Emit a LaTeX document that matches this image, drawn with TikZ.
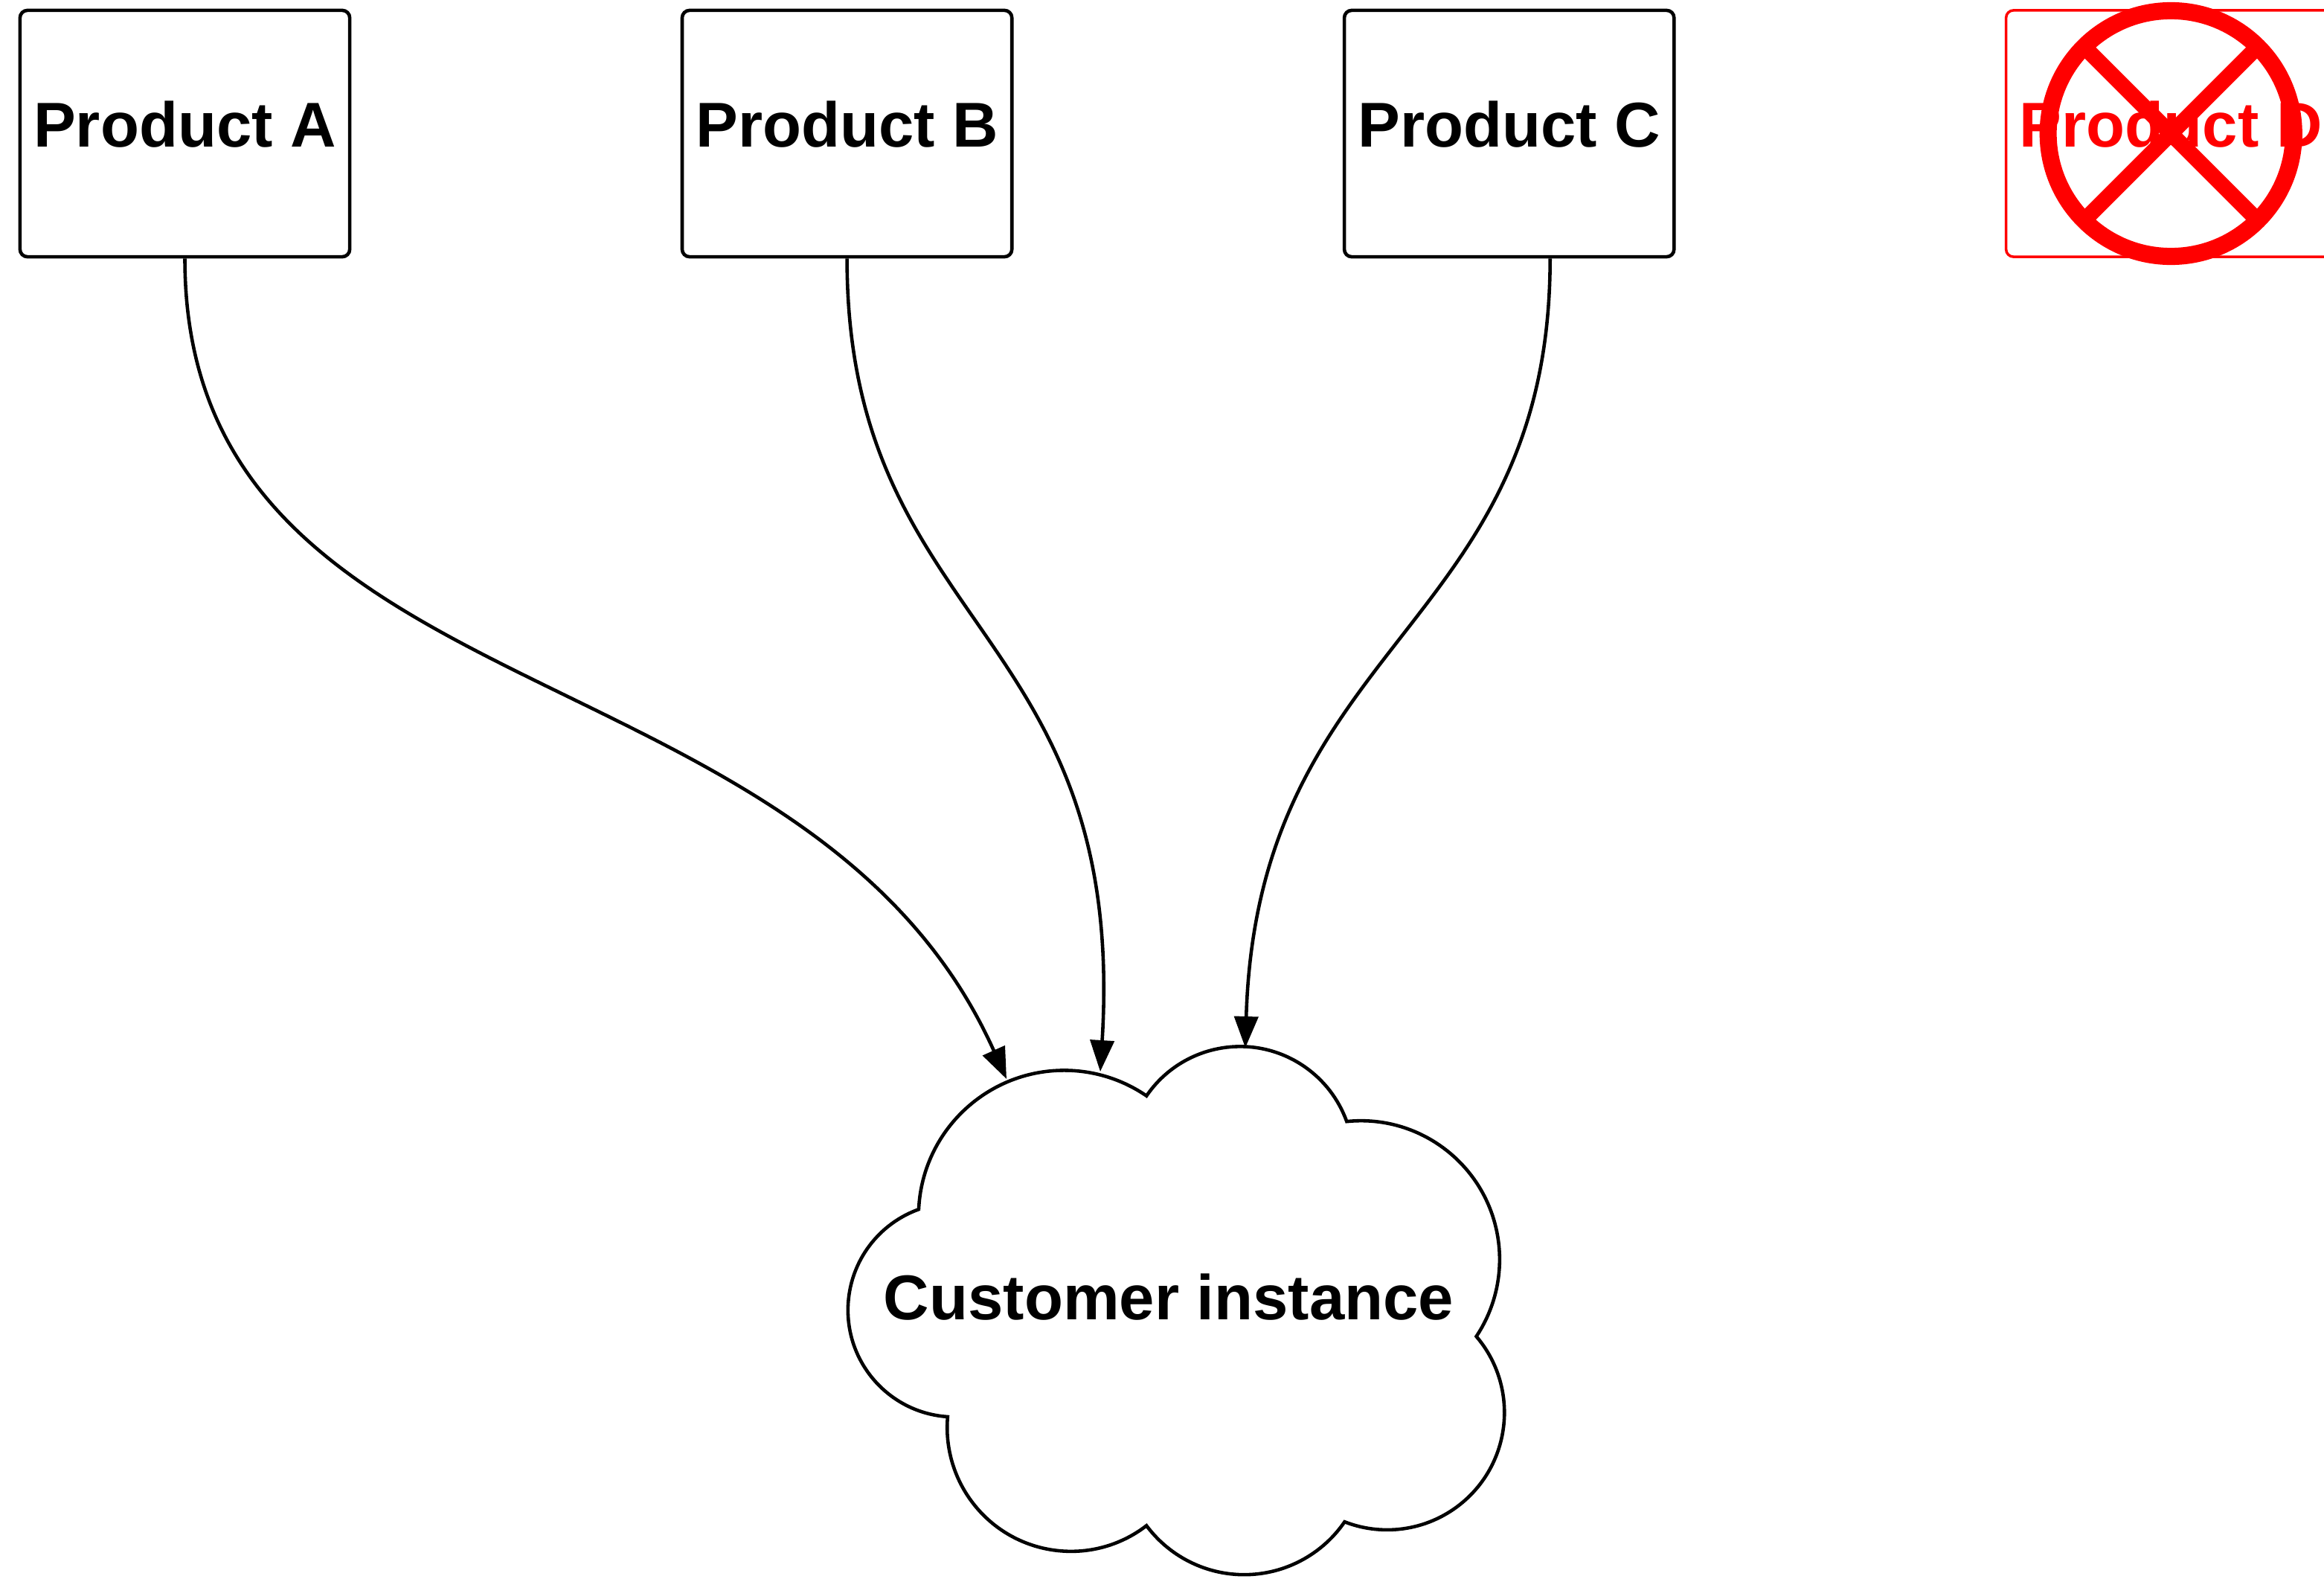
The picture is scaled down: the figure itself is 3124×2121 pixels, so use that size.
\documentclass[tikz,border=0pt]{standalone}
\usepackage{fontspec}
\setmainfont{Liberation Sans}
\usetikzlibrary{arrows.meta, positioning}

\begin{document}
\begin{tikzpicture}[x=0.01cm, y=-0.01cm,
    every node/.style = {font=\fontsize{24.2}{29}\selectfont\bfseries},
    product/.style = {draw, line width=1.3pt, rounded corners=0.1cm,
      minimum width=4.43cm, minimum height=3.31cm, inner sep=0pt,
      text depth=0.26cm},
    dropped/.style = {product, draw=red, text=red, line width=1pt},
    ban/.style     = {red, line width=0.23cm},
    link/.style    = {line width=1.3pt,
      -{Triangle[length=0.42cm, width=0.32cm]}},
  ]
  \path[use as bounding box, clip] (0,0) rectangle (3124,2121);
  \node[product] (pA) at (248.5,179.5) {Product A};
  \node[product, right=4.42cm of pA] (pB) {Product B};
  \node[product, right=4.42cm of pB] (pC) {Product C};
  \node[dropped, right=4.42cm of pC] (pD) {Product D};
  \draw[ban] (pD.center) circle[radius=1.65cm];
  \draw[ban, line width=0.21cm]
    ([shift={(-1.17cm,1.17cm)}]pD.center) -- ([shift={(1.17cm,-1.17cm)}]pD.center)
    ([shift={(-1.17cm,-1.17cm)}]pD.center) -- ([shift={(1.17cm,1.17cm)}]pD.center);
  \draw[line width=1.3pt] (1235,1624)
    arc[start angle=177,   end angle=55.6,   radius=1.957cm]
    arc[start angle=145.6, end angle=19.8,   radius=1.523cm]
    arc[start angle=95.9,  end angle=-33.7,  radius=1.863cm]
    arc[start angle=40.5,  end angle=-111.3, radius=1.575cm]
    arc[start angle=-34.5, end angle=-143.3, radius=1.637cm]
    arc[start angle=-52.4, end angle=-185,   radius=1.663cm]
    arc[start angle=266.1, end angle=109.8,  radius=1.437cm]
    -- cycle;
  \node (cust) at (1571,1743) {Customer instance};
  \coordinate (inA) at (1353,1450);
  \coordinate (inB) at (1479,1440);
  \coordinate (inC) at (1674,1408);
  \draw[link] (pA.south) .. controls +(0,620) and +(-266,-592) .. (inA);
  \draw[link] (pB.south) .. controls +(0,500) and +(37,-600) .. (inB);
  \draw[link] ([xshift=0.55cm]pC.south) .. controls +(0,500) and +(16,-550) .. (inC);
\end{tikzpicture}
\end{document}
